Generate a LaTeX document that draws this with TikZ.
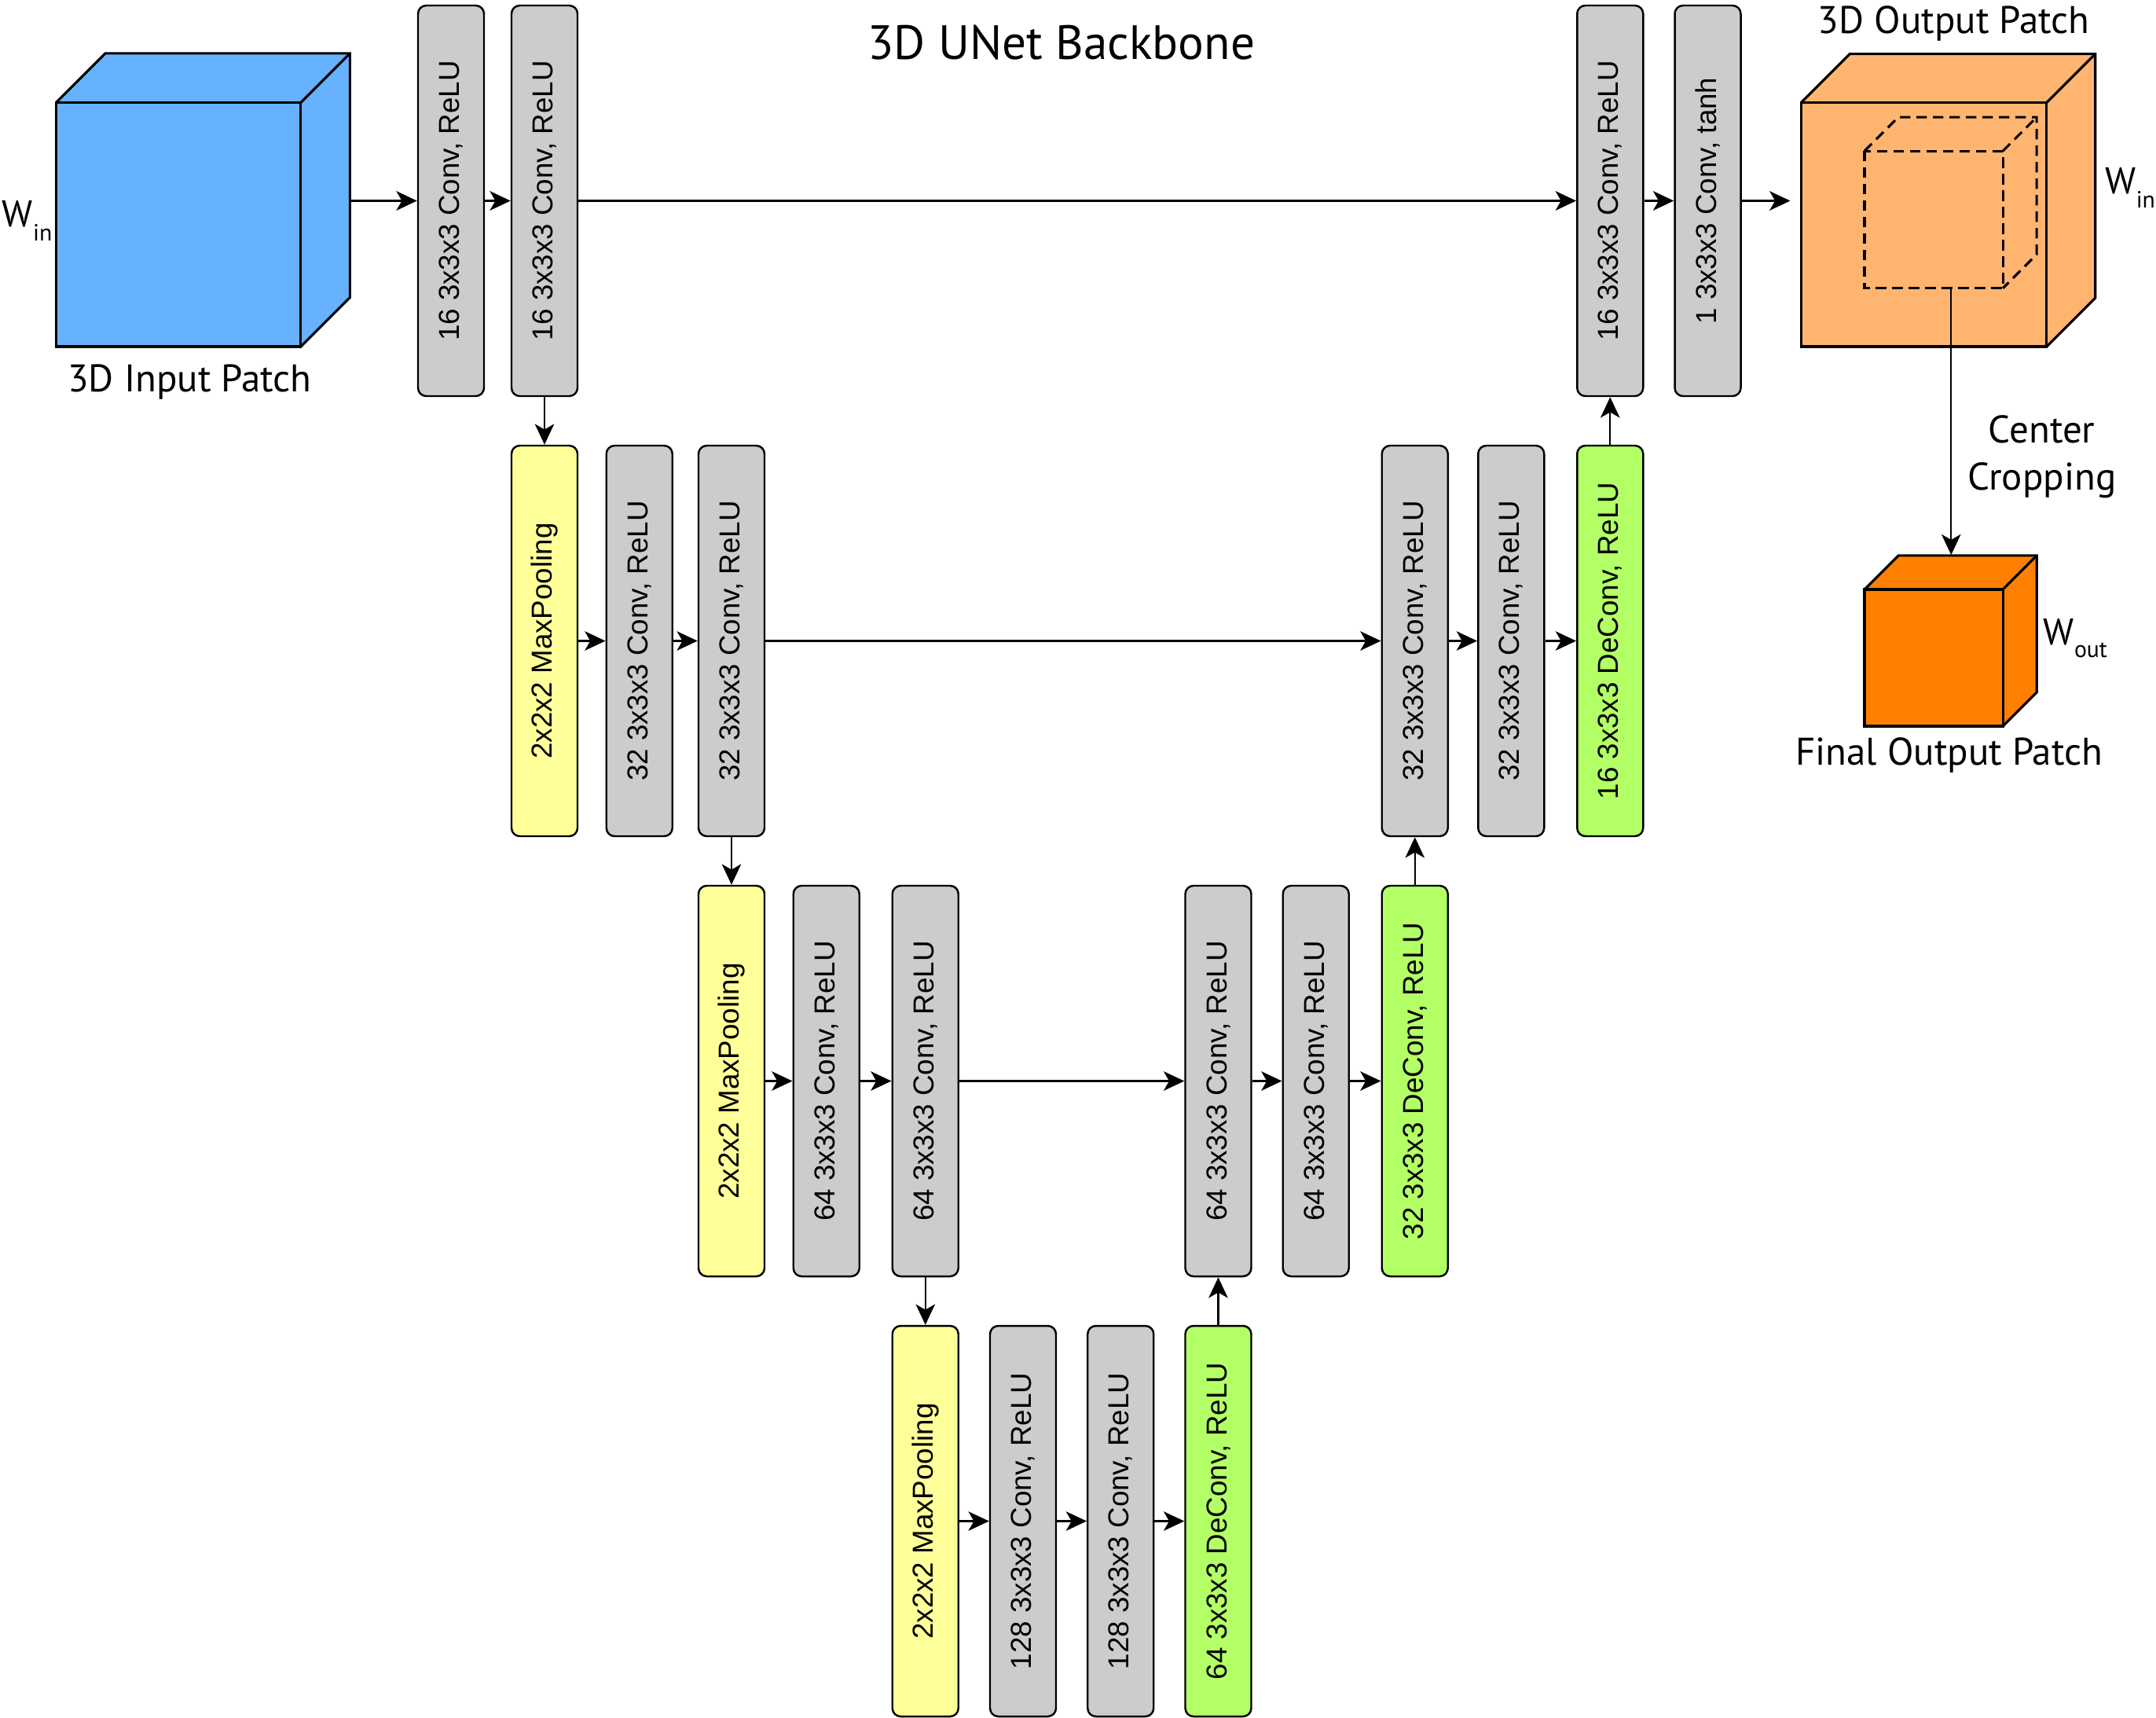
\documentclass[tikz,border=0pt]{standalone}
\usepackage{fontspec}
\setmainfont{PT Sans}
\newfontfamily\arialfont{Liberation Sans}
\usetikzlibrary{arrows.meta}
\definecolor{cubeblue}{HTML}{66B2FF}
\definecolor{cubeorange}{HTML}{FFB570}
\definecolor{cubedark}{HTML}{FF8000}
\definecolor{convgray}{HTML}{CCCCCC}
\definecolor{poolyellow}{HTML}{FFFF99}
\definecolor{decgreen}{HTML}{B3FF66}
% #1 x, #2 y of front top-left, #3 width, #4 height, #5 depth, #6 fill colour
\newcommand\mycube[6]{%
  \fill[#6] (#1,#2) rectangle ++(#3,#4);
  \fill[#6] (#1,#2) -- ++(#5,-#5) -- ++(#3,0) -- ++(0,#4) -- ++(-#5,#5) -- ++(-#3,0) -- cycle;
  \draw[cubeline] (#1,#2) rectangle ++(#3,#4);
  \draw[cubeline] (#1,#2) -- ++(#5,-#5) -- ++(#3,0) -- ++(0,#4) -- ++(-#5,#5);
  \draw[cubeline] (#1+#3,#2) -- ++(#5,-#5);
}
\newcommand\mydashcube[5]{%
  \draw[dashline] (#1,#2) rectangle ++(#3,#4);
  \draw[dashline] (#1,#2) -- ++(#5,-#5) -- ++(#3,0) -- ++(0,#4) -- ++(-#5,#5);
  \draw[dashline] (#1+#3,#2) -- ++(#5,-#5);
}
\begin{document}
\begin{tikzpicture}[x=1pt,y=-1pt,
  cubeline/.style={line width=1.8pt, line join=miter},
  dashline/.style={line width=1.8pt, dash pattern=on 7.5pt off 4.5pt},
  blk/.style={draw, line width=1.4pt, rounded corners=6pt, minimum width=48pt,
    minimum height=284pt, inner sep=0pt, font=\arialfont\fontsize{21}{21}\selectfont},
  conv/.style={blk, fill=convgray},
  pool/.style={blk, fill=poolyellow},
  deconv/.style={blk, fill=decgreen},
  arr/.style={-{Stealth[length=15pt,width=14pt,inset=4pt]}, line width=1.3pt},
  arrb/.style={arr, line width=2pt},
  lbl/.style={inner sep=0pt, anchor=base, font=\fontsize{28}{28}\selectfont},
  wlbl/.style={inner sep=0pt, anchor=base west, font=\fontsize{27}{27}\selectfont},
]
\useasboundingbox (0,0) rectangle (1568,1248.6);
\fill[white] (0,0) rectangle (1568,1248.6);

% cubes
\mycube{40.8}{74.5}{178}{177.5}{35.7}{cubeblue}
\mycube{1310}{74.5}{178.5}{177.5}{35.3}{cubeorange}
\mydashcube{1356}{109.8}{100.6}{99.8}{24.6}
\mycube{1356}{428.6}{100.6}{99.4}{24.7}{cubedark}

% row 1
\node[conv] (a1) at (328,146) {\rotatebox{90}{16 3x3x3 Conv, ReLU}};
\node[conv] (a2) at (396,146) {\rotatebox{90}{16 3x3x3 Conv, ReLU}};
\node[conv] (a3) at (1171,146) {\rotatebox{90}{16 3x3x3 Conv, ReLU}};
\node[conv] (a4) at (1242,146) {\rotatebox{90}{1 3x3x3 Conv, tanh}};
% row 2
\node[pool] (p2) at (396,466) {\rotatebox{90}{2x2x2 MaxPooling}};
\node[conv] (b1) at (465,466) {\rotatebox{90}{32 3x3x3 Conv, ReLU}};
\node[conv] (b2) at (532,466) {\rotatebox{90}{32 3x3x3 Conv, ReLU}};
\node[conv] (b3) at (1029,466) {\rotatebox{90}{32 3x3x3 Conv, ReLU}};
\node[conv] (b4) at (1099,466) {\rotatebox{90}{32 3x3x3 Conv, ReLU}};
\node[deconv] (g2) at (1171,466) {\rotatebox{90}{16 3x3x3 DeConv, ReLU}};
% row 3
\node[pool] (p3) at (532,786) {\rotatebox{90}{2x2x2 MaxPooling}};
\node[conv] (c1) at (601,786) {\rotatebox{90}{64 3x3x3 Conv, ReLU}};
\node[conv] (c2) at (673,786) {\rotatebox{90}{64 3x3x3 Conv, ReLU}};
\node[conv] (c3) at (886,786) {\rotatebox{90}{64 3x3x3 Conv, ReLU}};
\node[conv] (c4) at (957,786) {\rotatebox{90}{64 3x3x3 Conv, ReLU}};
\node[deconv] (g3) at (1029,786) {\rotatebox{90}{32 3x3x3 DeConv, ReLU}};
% row 4
\node[pool] (p4) at (673,1106) {\rotatebox{90}{2x2x2 MaxPooling}};
\node[conv] (d1) at (744,1106) {\rotatebox{90}{128 3x3x3 Conv, ReLU}};
\node[conv] (d2) at (815,1106) {\rotatebox{90}{128 3x3x3 Conv, ReLU}};
\node[deconv] (g4) at (886,1106) {\rotatebox{90}{64 3x3x3 DeConv, ReLU}};

% connector end points
\coordinate (inR) at (254.5,146);
\coordinate (outL) at (1302,146);
\coordinate (cropS) at (1419,209.6);
\coordinate (cropE) at (1419,403.5);

% top row arrows
\draw[arrb] (inR) -- (a1.west);
\draw[arrb] (a1.east) -- (a2.west);
\draw[arrb] (a2.east) -- (a3.west);
\draw[arrb] (a3.east) -- (a4.west);
\draw[arrb] (a4.east) -- (outL);
% row 2
\draw[arr] (p2.east) -- (b1.west);
\draw[arr] (b1.east) -- (b2.west);
\draw[arr] (b2.east) -- (b3.west);
\draw[arr] (b3.east) -- (b4.west);
\draw[arr] (b4.east) -- (g2.west);
% row 3
\draw[arr] (p3.east) -- (c1.west);
\draw[arr] (c1.east) -- (c2.west);
\draw[arr] (c2.east) -- (c3.west);
\draw[arr] (c3.east) -- (c4.west);
\draw[arr] (c4.east) -- (g3.west);
% row 4
\draw[arr] (p4.east) -- (d1.west);
\draw[arr] (d1.east) -- (d2.west);
\draw[arr] (d2.east) -- (g4.west);
% down
\draw[arr] (a2.south) -- (p2.north);
\draw[arr] (b2.south) -- (p3.north);
\draw[arr] (c2.south) -- (p4.north);
% up
\draw[arr] (g4.north) -- (c3.south);
\draw[arr] (g3.north) -- (b3.south);
\draw[arr] (g2.north) -- (a3.south);
% crop
\draw[arr, line width=1.2pt] (cropS) -- (cropE);

% labels
\node[lbl, font=\fontsize{35}{35}\selectfont] (title) at (772,42.9) {3D UNet Backbone};
\node[lbl] (inlbl) at (138,285) {3D Input Patch};
\node[lbl] (outlbl) at (1421,24.5) {3D Output Patch};
\node[lbl] (crop1) at (1485,321.8) {Center};
\node[lbl] (crop2) at (1485,356) {Cropping};
\node[lbl] (finlbl) at (1417.5,556) {Final Output Patch};
\node[wlbl] (win1) at (1.5,165) {W\raisebox{-10pt}{\fontsize{17}{17}\selectfont in}};
\node[wlbl] (win2) at (1531,141) {W\raisebox{-10pt}{\fontsize{17}{17}\selectfont in}};
\node[wlbl] (wout) at (1486,468.6) {W\raisebox{-9.4pt}{\fontsize{17}{17}\selectfont out}};
\end{tikzpicture}
\end{document}
